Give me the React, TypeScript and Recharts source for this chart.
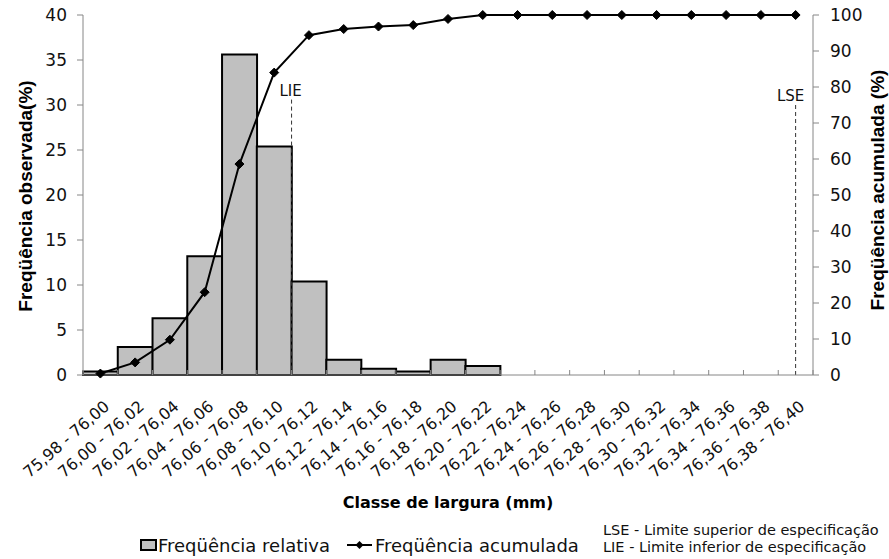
import React from "react";
import {
  ComposedChart,
  Bar,
  Line,
  XAxis,
  YAxis,
  ReferenceLine,
  Legend,
} from "recharts";

const categories = [
  "75,98 - 76,00",
  "76,00 - 76,02",
  "76,02 - 76,04",
  "76,04 - 76,06",
  "76,06 - 76,08",
  "76,08 - 76,10",
  "76,10 - 76,12",
  "76,12 - 76,14",
  "76,14 - 76,16",
  "76,16 - 76,18",
  "76,18 - 76,20",
  "76,20 - 76,22",
  "76,22 - 76,24",
  "76,24 - 76,26",
  "76,26 - 76,28",
  "76,28 - 76,30",
  "76,30 - 76,32",
  "76,32 - 76,34",
  "76,34 - 76,36",
  "76,36 - 76,38",
  "76,38 - 76,40",
];

const relativeFreq = [
  0.4, 3.1, 6.3, 13.2, 35.6, 25.4, 10.4, 1.7, 0.7, 0.4, 1.7, 1.0, 0, 0, 0, 0, 0,
  0, 0, 0, 0,
];

const cumulativeFreq = [
  0.4, 3.5, 9.8, 23.0, 58.6, 84.0, 94.4, 96.1, 96.8, 97.2, 98.9, 100, 100, 100,
  100, 100, 100, 100, 100, 100, 100,
];

const leftTicks = [0, 5, 10, 15, 20, 25, 30, 35, 40];
const rightTicks = [0, 10, 20, 30, 40, 50, 60, 70, 80, 90, 100];

// Specification limits: class where the marker sits, where in the class, and marker top (left axis units)
const specLabels = ["LIE", "LSE"];
const specClasses = ["76,08 - 76,10", "76,38 - 76,40"];
const specWithin: ("end" | "middle")[] = ["end", "middle"];
const specTops = [30.6, 30.0];

const data = categories.map((c, i) => ({
  classe: c,
  rel: relativeFreq[i],
  cum: cumulativeFreq[i],
}));

const SANS = "'DejaVu Sans', 'Liberation Sans', Arial, sans-serif";
const ARIAL = "'Liberation Sans', Arial, sans-serif";
const AXIS_GRAY = "#868686";

const XTick = (props: any) => {
  const { x, y, payload, index } = props;
  const half =
    payload && typeof payload.offset === "number" && payload.offset > 0 ? payload.offset : 17.38;
  const tx = x + 10;
  const ty = y + 33;
  return (
    <g>
      <line x1={x + half} x2={x + half} y1={y} y2={y - 5} stroke={AXIS_GRAY} strokeWidth={1} />
      {index === 0 ? (
        <line x1={x - half} x2={x - half} y1={y} y2={y - 5} stroke={AXIS_GRAY} strokeWidth={1} />
      ) : null}
      <text
        x={tx}
        y={ty}
        transform={`rotate(-41 ${tx} ${ty})`}
        textAnchor="end"
        fontSize={16}
        fontFamily={SANS}
        fill="#111"
      >
        {payload.value}
      </text>
    </g>
  );
};

const Diamond = (props: any) => {
  const { cx, cy } = props;
  if (cx == null || cy == null) return null;
  const r = 4.5;
  return (
    <path
      d={`M${cx},${cy - r}L${cx + r},${cy}L${cx},${cy + r}L${cx - r},${cy}Z`}
      fill="#000"
      stroke="#000"
      strokeWidth={1}
    />
  );
};

const makeSpecLabel = (text: string, dx: number) => (props: any) => {
  const vb = props.viewBox || {};
  const x = (vb.x ?? 0) + dx;
  const y = (vb.y ?? 0) - 4;
  return (
    <text x={x} y={y} textAnchor="middle" fontSize={15} fontFamily={SANS} fill="#111">
      {text}
    </text>
  );
};

const XTitle = (props: any) => {
  const vb = props.viewBox || {};
  return (
    <text
      x={vb.x + vb.width / 2}
      y={vb.y + 133}
      textAnchor="middle"
      fontSize={16}
      fontWeight="bold"
      fontFamily={SANS}
      fill="#000"
    >
      Classe de largura (mm)
    </text>
  );
};

const LeftTitle = () => (
  <text
    x={25}
    y={196}
    transform="rotate(-90 25 196)"
    textAnchor="middle"
    dominantBaseline="central"
    fontSize={19}
    fontWeight="bold"
    fontFamily={ARIAL}
    fill="#000"
  >
    Freqüência observada(%)
  </text>
);

const RightTitle = () => (
  <text
    x={877}
    y={190}
    transform="rotate(-90 877 190)"
    textAnchor="middle"
    dominantBaseline="central"
    fontSize={19}
    fontWeight="bold"
    fontFamily={ARIAL}
    fill="#000"
  >
    Freqüência acumulada (%)
  </text>
);

const LegendContent = () => (
  <div style={{ position: "relative", width: 889, height: 44 }}>
    <svg width={889} height={44} style={{ position: "absolute", left: 0, top: 0 }}>
      <rect x={141} y={25} width={15} height={10} fill="#c0c0c0" stroke="#000" strokeWidth={2} />
      <text x={158} y={37} fontSize={18} fontFamily={SANS} fill="#111">
        Freqüência relativa
      </text>
      <line x1={347} x2={372} y1={30} y2={30} stroke="#000" strokeWidth={2} />
      <path d="M359.5,26L363.5,30L359.5,34L355.5,30Z" fill="#000" />
      <text x={375} y={37} fontSize={18} fontFamily={SANS} fill="#111">
        Freqüência acumulada
      </text>
      <text x={603} y={20} fontSize={14.5} fontFamily={SANS} fill="#111">
        LSE - Limite superior de especificação
      </text>
      <text x={603} y={37} fontSize={14.5} fontFamily={SANS} fill="#111">
        LIE - Limite inferior de especificação
      </text>
    </svg>
  </div>
);

export default function App() {
  return (
    <div
      style={{ position: "absolute", left: 0, top: 0, width: 889, height: 559, background: "#fff" }}
    >
      <ComposedChart
        width={889}
        height={559}
        data={data}
        margin={{ top: 15, right: 0, bottom: 0, left: 0 }}
        barCategoryGap={0}
        barGap={0}
      >
        <XAxis
          dataKey="classe"
          xAxisId="cat"
          height={140}
          interval={0}
          tickSize={0}
          tickMargin={0}
          tickLine={false}
          axisLine={{ stroke: AXIS_GRAY, strokeWidth: 1 }}
          tick={<XTick />}
          label={<XTitle />}
        />
        <YAxis
          yAxisId="left"
          domain={[0, 40]}
          ticks={leftTicks}
          width={83}
          tickSize={6}
          tickMargin={10}
          axisLine={{ stroke: AXIS_GRAY }}
          tickLine={{ stroke: AXIS_GRAY }}
          tick={{ fontSize: 17, fontFamily: SANS, fill: "#111" }}
          interval={0}
        />
        <YAxis
          yAxisId="right"
          orientation="right"
          domain={[0, 100]}
          ticks={rightTicks}
          width={76}
          tickSize={6}
          tickMargin={11}
          axisLine={{ stroke: AXIS_GRAY }}
          tickLine={{ stroke: AXIS_GRAY }}
          tick={{ fontSize: 17, fontFamily: SANS, fill: "#111" }}
          interval={0}
        />
        <Bar
          dataKey="rel"
          xAxisId="cat"
          yAxisId="left"
          fill="#c0c0c0"
          stroke="#000"
          strokeWidth={2}
          isAnimationActive={false}
          name="Freqüência relativa"
        />
        <Line
          dataKey="cum"
          xAxisId="cat"
          yAxisId="right"
          type="linear"
          stroke="#000"
          strokeWidth={2}
          dot={<Diamond />}
          activeDot={false}
          isAnimationActive={false}
          name="Freqüência acumulada"
        />
        {specLabels.map((lbl, i) => (
          <ReferenceLine
            key={lbl}
            xAxisId="cat"
            yAxisId="left"
            position={specWithin[i]}
            segment={[
              { x: specClasses[i], y: specTops[i] },
              { x: specClasses[i], y: 0 },
            ]}
            stroke="#333"
            strokeWidth={1}
            strokeDasharray="4 3"
            ifOverflow="visible"
            label={makeSpecLabel(lbl, i === 0 ? -1 : -5)}
          />
        ))}
        <Legend
          verticalAlign="bottom"
          content={<LegendContent />}
          wrapperStyle={{ left: 0, bottom: 0, width: 889, height: 44 }}
        />
        <LeftTitle />
        <RightTitle />
      </ComposedChart>
    </div>
  );
}
